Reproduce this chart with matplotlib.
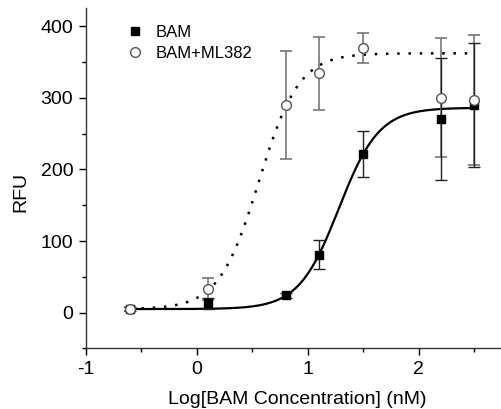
import numpy as np
import matplotlib.pyplot as plt
from matplotlib.ticker import MultipleLocator

plt.rcParams['font.family'] = ['Liberation Sans', 'DejaVu Sans']
plt.rcParams['axes.unicode_minus'] = False

# ------------------------------------------------------------
# data
# ------------------------------------------------------------
log_conc = [-0.6, 0.1, 0.8, 1.1, 1.5, 2.2, 2.5]

bam_y   = [5, 13, 24, 81, 222, 270, 290]
bam_err = [3, 8, 4, 20, 32, 85, 86]

ml_y   = [5, 33, 290, 334, 369, 300, 297]
ml_err = [3, 15, 75, 51, 21, 83, 91]

# fitted dose-response parameters (bottom, top, logEC50, hill)
bam_fit = (5, 286, 1.28, 2.4)
ml_fit  = (5, 362, 0.56, 2.4)


def logistic(x, bottom, top, logec50, hill):
    return bottom + (top - bottom) / (1 + 10 ** ((logec50 - x) * hill))


def main():
    fig = plt.figure(figsize=(5.02, 4.09), dpi=100)
    ax = fig.add_axes([0.171, 0.148, 0.829, 0.832])

    xs = np.linspace(min(log_conc), max(log_conc), 300)
    ax.plot(xs, logistic(xs, *bam_fit), color='black', lw=1.6, zorder=2)
    ax.plot(xs, logistic(xs, *ml_fit), color='black', lw=1.8, ls=(0, (1, 3.5)), zorder=2)

    ax.errorbar(log_conc, ml_y, yerr=ml_err, fmt='none', ecolor='#777777',
                elinewidth=1.2, capsize=4, capthick=1.2, zorder=3)
    ax.errorbar(log_conc, bam_y, yerr=bam_err, fmt='none', ecolor='#222222',
                elinewidth=1.0, capsize=4, capthick=1.0, zorder=3)

    ax.plot(log_conc, bam_y, 's', color='black', ms=6, ls='none', label='BAM', zorder=4)
    ax.plot(log_conc, ml_y, 'o', mfc='white', mec='#555555', mew=1, ms=7,
            ls='none', label='BAM+ML382', zorder=5)

    ax.set_xlim(-1, 2.75)
    ax.set_ylim(-50, 425)
    ax.xaxis.set_major_locator(MultipleLocator(1))
    ax.xaxis.set_minor_locator(MultipleLocator(0.5))
    ax.yaxis.set_major_locator(MultipleLocator(100))
    ax.yaxis.set_minor_locator(MultipleLocator(50))
    ax.tick_params(which='major', length=5, width=1, labelsize=14, direction='out', pad=4)
    ax.tick_params(which='minor', length=3, width=1, direction='out')

    for side in ('top', 'right'):
        ax.spines[side].set_visible(False)
    for side in ('left', 'bottom'):
        ax.spines[side].set_linewidth(1.0)
        ax.spines[side].set_color('#333333')

    ax.set_xlabel('Log[BAM Concentration] (nM)', fontsize=14)
    ax.xaxis.set_label_coords(0.507, -0.124)
    ax.set_ylabel('RFU', fontsize=14)
    ax.yaxis.set_label_coords(-0.135, 0.46)

    ax.legend(loc='upper left', bbox_to_anchor=(0.06, 0.985), frameon=False,
              fontsize=12, handletextpad=0.5, borderaxespad=0.3, labelspacing=0.35,
              handlelength=1.5)

    fig.savefig('out.png', dpi=100)


if __name__ == "__main__":
    main()
